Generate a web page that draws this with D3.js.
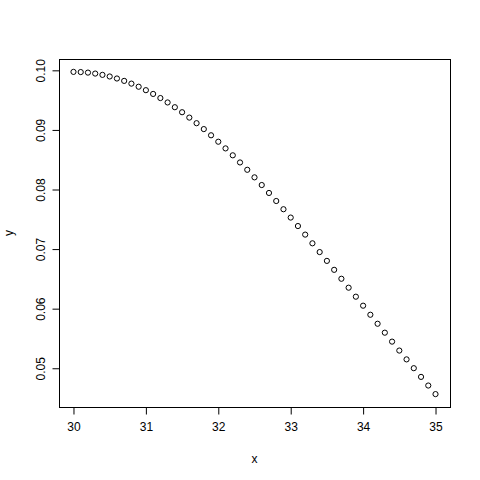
<!DOCTYPE html>
<html>
<head>
<meta charset="utf-8">
<script src="https://cdn.jsdelivr.net/npm/d3@7"></script>
<style>
  body { margin: 0; background: white; }
  text { font-family: "Liberation Sans", Arial, sans-serif; }
</style>
</head>
<body>
<main></main>
<script>
// x values 30 .. 35, step 0.1
let xs = [30.0, 30.1, 30.2, 30.3, 30.4, 30.5, 30.6, 30.7, 30.8, 30.9,
  31.0, 31.1, 31.2, 31.3, 31.4, 31.5, 31.6, 31.7, 31.8, 31.9,
  32.0, 32.1, 32.2, 32.3, 32.4, 32.5, 32.6, 32.7, 32.8, 32.9,
  33.0, 33.1, 33.2, 33.3, 33.4, 33.5, 33.6, 33.7, 33.8, 33.9,
  34.0, 34.1, 34.2, 34.3, 34.4, 34.5, 34.6, 34.7, 34.8, 34.9, 35.0]

let ys = [0.09974, 0.09971, 0.09962, 0.09946, 0.09924, 0.09897, 0.09863, 0.09823, 0.09777, 0.09725,
  0.09667, 0.09604, 0.09535, 0.09461, 0.09381, 0.09297, 0.09207, 0.09113, 0.09014, 0.08910,
  0.08802, 0.08690, 0.08574, 0.08454, 0.08331, 0.08204, 0.08075, 0.07942, 0.07807, 0.07669,
  0.07529, 0.07387, 0.07243, 0.07097, 0.06950, 0.06802, 0.06652, 0.06502, 0.06352, 0.06201,
  0.06050, 0.05898, 0.05747, 0.05597, 0.05447, 0.05297, 0.05149, 0.05001, 0.04855, 0.04710, 0.04566]

let xTicks = [30, 31, 32, 33, 34, 35]
let yTicks = [0.05, 0.06, 0.07, 0.08, 0.09, 0.10]

const svgWidth = 480
const svgHeight = 480
const plotLeft = 59, plotRight = 450, plotTop = 59, plotBottom = 407

let svg = d3.select("main")
    .append("svg")
    .attr("width", svgWidth)
    .attr("height", svgHeight)
    .style("background-color", "white")

// R style 4% padding on each side
function padded(ext) {
  let d = (ext[1] - ext[0]) * 0.04
  return [ext[0] - d, ext[1] + d]
}

let xScale = d3.scaleLinear()
    .domain(padded(d3.extent(xs)))
    .range([plotLeft, plotRight])

let yScale = d3.scaleLinear()
    .domain(padded(d3.extent(ys)))
    .range([plotBottom, plotTop])

// box
svg.append("rect")
    .attr("x", plotLeft + 0.5)
    .attr("y", plotTop + 0.5)
    .attr("width", plotRight - plotLeft)
    .attr("height", plotBottom - plotTop)
    .style("fill", "none")
    .style("stroke", "black")

// x axis
let xAxis = svg.append("g")
    .attr("transform", `translate(0, ${plotBottom + 0.5})`)
    .call(d3.axisBottom(xScale).tickValues(xTicks).tickSize(7).tickPadding(8).tickFormat(d3.format("d")))

xAxis.select(".domain").style("stroke", "none")

xAxis.selectAll("text")
    .style("font-size", "12px")
    .style("fill", "black")

// y axis
let yAxis = svg.append("g")
    .attr("transform", `translate(${plotLeft + 0.5}, 0)`)
    .call(d3.axisLeft(yScale).tickValues(yTicks).tickSize(7).tickFormat(d3.format(".2f")))

yAxis.select(".domain").style("stroke", "none")

yAxis.selectAll("text")
    .attr("x", null)
    .attr("dy", null)
    .attr("transform", "translate(-15, 0) rotate(-90)")
    .attr("text-anchor", "middle")
    .style("font-size", "12px")
    .style("fill", "black")

// axis titles
svg.append("text")
    .attr("x", (plotLeft + plotRight) / 2)
    .attr("y", 463)
    .attr("text-anchor", "middle")
    .style("font-size", "12px")
    .text("x")

svg.append("text")
    .attr("transform", `translate(13, ${(plotTop + plotBottom) / 2}) rotate(-90)`)
    .attr("text-anchor", "middle")
    .style("font-size", "12px")
    .text("y")

// points
svg.append("g")
    .selectAll("circle")
    .data(xs)
    .enter()
    .append("circle")
    .attr("cx", (d, i) => xScale(d))
    .attr("cy", (d, i) => yScale(ys[i]))
    .attr("r", 2.6)
    .style("fill", "none")
    .style("stroke", "black")
    .style("stroke-width", 1)
</script>
</body>
</html>
